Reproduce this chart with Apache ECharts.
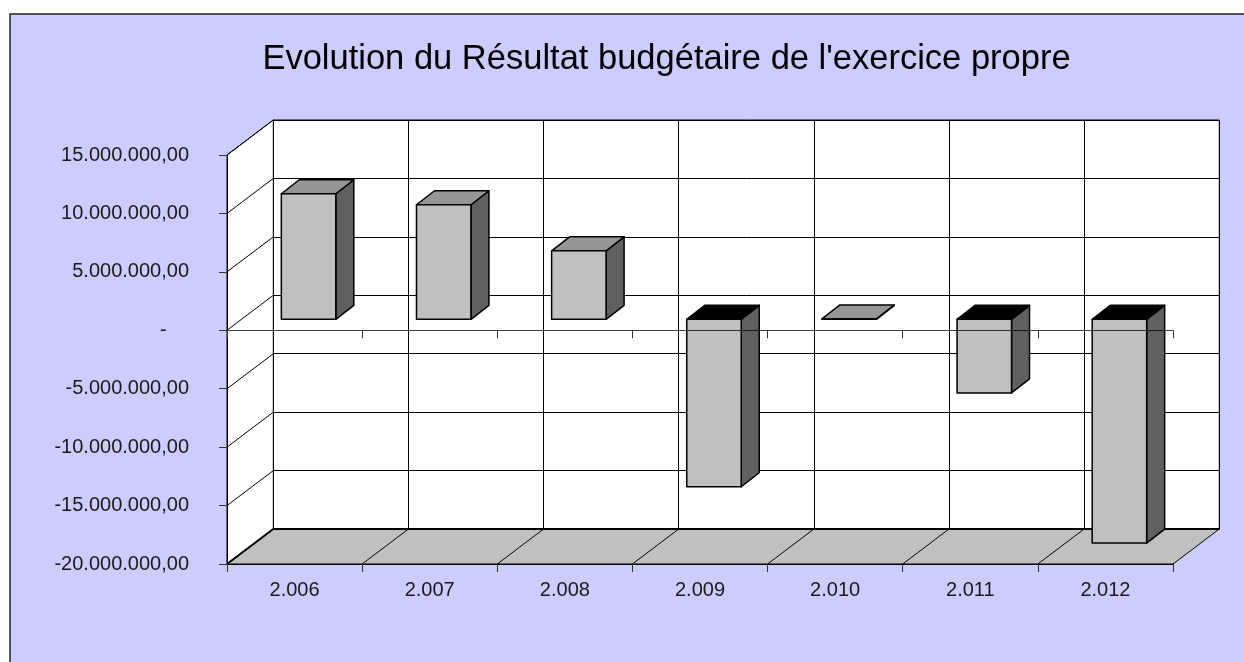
<!DOCTYPE html>
<html>
<head>
<meta charset="utf-8">
<title>Evolution du Résultat budgétaire</title>
<script src="https://cdn.jsdelivr.net/npm/echarts@6/dist/echarts.min.js"></script>
<style>
  html, body { margin: 0; padding: 0; background: #fff; }
  #chart { width: 1244px; height: 662px; }
</style>
</head>
<body>
<div id="chart"></div>
<script>
var years = ["2.006", "2.007", "2.008", "2.009", "2.010", "2.011", "2.012"];
var resultat = [10740000, 9800000, 5860000, -14330000, 30000, -6300000, -19150000];
var yTicks = [-20000000, -15000000, -10000000, -5000000, 0, 5000000, 10000000, 15000000];
var yTickLabels = ["-20.000.000,00", "-15.000.000,00", "-10.000.000,00", "-5.000.000,00", "-    ", "5.000.000,00", "10.000.000,00", "15.000.000,00"];

// décalage de la paroi arrière (faux 3D façon Excel)
var DX = 46.3, DY = 35;
// barres : plan avant à 11/35 de la profondeur, profondeur propre 18 x 14
var BAR_DY = 11, BAR_DX = 14, DEPTH_X = 18, DEPTH_Y = 14;

var FONT = "Liberation Sans";
var chart = echarts.init(document.getElementById("chart"), null, { renderer: "canvas" });

// paroi gauche + sol, posés sur les échelles de la grille avant
function renderRoom(params, api) {
  var band = api.size([1, 0])[0];
  var x0 = api.coord([0, 0])[0] - band / 2;
  var x1 = x0 + band * years.length;
  var yTop = api.coord([0, 15000000])[1], yBot = api.coord([0, -20000000])[1];
  var kids = [];
  function poly(pts, style) { kids.push({ type: "polygon", shape: { points: pts }, style: style }); }
  function line(a, b, w) {
    kids.push({ type: "line", shape: { x1: a[0], y1: a[1], x2: b[0], y2: b[1] }, style: { stroke: "#000", lineWidth: w || 1 } });
  }
  poly([[x0, yTop], [x0 + DX, yTop - DY], [x0 + DX, yBot - DY], [x0, yBot]], { fill: "#fff", stroke: "#000", lineWidth: 1 });
  yTicks.forEach(function (t) {
    var y = api.coord([0, t])[1];
    line([x0, y], [x0 + DX, y - DY]);
  });
  poly([[x0, yBot], [x1, yBot], [x1 + DX, yBot - DY], [x0 + DX, yBot - DY]], { fill: "#C0C0C0", stroke: "#000", lineWidth: 1 });
  for (var i = 1; i < years.length; i++) {
    line([x0 + band * i, yBot], [x0 + band * i + DX, yBot - DY]);
  }
  line([x0, yBot], [x0 + DX, yBot - DY], 2);
  line([x0 + DX, yBot - DY], [x1 + DX, yBot - DY], 2);
  return { type: "group", children: kids };
}

function renderBar(params, api) {
  var i = api.value(0), v = api.value(1);
  var band = api.size([1, 0])[0];
  var w = band * 0.403;
  var cx = api.coord([i, 0])[0] + BAR_DX;
  var y0 = api.coord([i, 0])[1] - BAR_DY, yV = api.coord([i, v])[1] - BAR_DY;
  var yT = Math.min(y0, yV), yB = Math.max(y0, yV);
  var xl = cx - w / 2, xr = cx + w / 2;
  var edge = { stroke: "#000", lineWidth: 1.5, lineJoin: "round" };
  function face(pts, fill) {
    return { type: "polygon", shape: { points: pts }, style: Object.assign({ fill: fill }, edge) };
  }
  return {
    type: "group",
    children: [
      face([[xr, yT], [xr + DEPTH_X, yT - DEPTH_Y], [xr + DEPTH_X, yB - DEPTH_Y], [xr, yB]], "#606060"),
      face([[xl, yT], [xl + DEPTH_X, yT - DEPTH_Y], [xr + DEPTH_X, yT - DEPTH_Y], [xr, yT]], v >= 0 ? "#969696" : "#000"),
      face([[xl, yT], [xr, yT], [xr, yB], [xl, yB]], "#C0C0C0")
    ]
  };
}

chart.setOption({
  animation: false,
  textStyle: { fontFamily: FONT },
  title: {
    text: "Evolution du Résultat budgétaire de l'exercice propre",
    left: 661.5, top: 37, textAlign: "center",
    textStyle: { fontFamily: FONT, fontSize: 34.5, fontWeight: "normal", color: "#000" }
  },
  graphic: [{
    type: "rect", z: -10, silent: true,
    shape: { x: 10, y: 14, width: 1300, height: 700 },
    style: { fill: "#CCCCFF", stroke: "#222", lineWidth: 1.5 }
  }],
  grid: [
    { left: 227 + DX, top: 155 - DY, width: 946, height: 409, show: true, backgroundColor: "#fff", borderColor: "#000", borderWidth: 1, z: 0 },
    { left: 227, top: 155, width: 946, height: 409 }
  ],
  xAxis: [
    // paroi arrière
    { gridIndex: 0, type: "category", data: years, axisLine: { show: false }, axisTick: { show: false }, axisLabel: { show: false },
      splitLine: { show: true, interval: 0, lineStyle: { color: "#000", width: 1 } } },
    // axe du bas : étiquettes
    { gridIndex: 1, type: "category", data: years, position: "bottom", z: 10,
      axisLine: { onZero: false, lineStyle: { color: "#000", width: 1 } },
      axisTick: { show: true, length: 8, interval: 0, lineStyle: { color: "#333" } },
      axisLabel: { interval: 0, margin: 16, fontFamily: FONT, fontSize: 20, color: "#1a1a1a" } },
    // ligne du zéro, passe devant les barres
    { gridIndex: 1, type: "category", data: years, position: "top", z: 10,
      axisLine: { onZero: true, lineStyle: { color: "rgba(0,0,0,0.75)", width: 1 } },
      axisTick: { show: true, inside: true, length: 8, interval: 0, lineStyle: { color: "#333" } },
      axisLabel: { show: false } }
  ],
  yAxis: [
    { gridIndex: 0, type: "value", min: -20000000, max: 15000000, interval: 5000000,
      axisLine: { show: false }, axisTick: { show: false }, axisLabel: { show: false },
      splitLine: { show: true, lineStyle: { color: "#000", width: 1 } } },
    { gridIndex: 1, type: "value", min: -20000000, max: 15000000, interval: 5000000, z: 10,
      axisLine: { show: true, onZero: false, lineStyle: { color: "#000", width: 1 } },
      axisTick: { show: true, length: 8, lineStyle: { color: "#333" } },
      splitLine: { show: false },
      axisLabel: {
        margin: 38, fontFamily: FONT, fontSize: 20, color: "#1a1a1a",
        formatter: function (v) { return yTickLabels[yTicks.indexOf(v)]; }
      } }
  ],
  series: [
    { type: "custom", xAxisIndex: 1, yAxisIndex: 1, z: 1, silent: true, renderItem: renderRoom, data: [[0, 0]], clip: false },
    { type: "custom", xAxisIndex: 1, yAxisIndex: 1, z: 3, silent: true, renderItem: renderBar, clip: false,
      encode: { x: 0, y: 1 },
      data: resultat.map(function (v, i) { return [i, v]; }) }
  ]
});
</script>
</body>
</html>
